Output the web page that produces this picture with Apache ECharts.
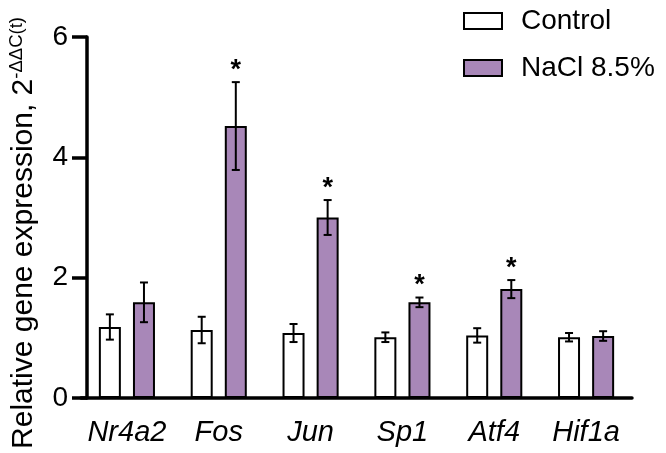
<!DOCTYPE html>
<html>
<head>
<meta charset="utf-8">
<script src="https://cdn.jsdelivr.net/npm/echarts@6/dist/echarts.min.js"></script>
<style>
  html, body { margin: 0; padding: 0; background: #fff; }
  #chart { width: 666px; height: 453px; }
</style>
</head>
<body>
<div id="chart"></div>
<script>
// genes on the x axis
const categories = ['Nr4a2', 'Fos', 'Jun', 'Sp1', 'Atf4', 'Hif1a'];
// mean and error (SEM) for each group
const controlMean = [1.18, 1.13, 1.08, 1.01, 1.04, 1.01];
const controlErr = [0.21, 0.22, 0.15, 0.08, 0.12, 0.07];
const naclMean = [1.59, 4.52, 3.00, 1.59, 1.81, 1.03];
const naclErr = [0.33, 0.73, 0.29, 0.08, 0.15, 0.08];
// significance marks above NaCl bars
const naclStar = [0, 1, 1, 1, 1, 0];
const yTicks = [0, 2, 4, 6];

const FONT = 'Arial, "Liberation Sans", sans-serif';
const PURPLE = '#a887b8';
const BAR_W = 22;
const BAR_GAP = 0.55;
const SHIFT = (BAR_W + BAR_W * BAR_GAP) / 2;

const chart = echarts.init(document.getElementById('chart'));

// error bars (+ asterisks) drawn on top of the bars
function errorRenderer(side) {
    return function (params, api) {
        const idx = api.value(0);
        const mean = api.value(1);
        const err = api.value(2);
        const star = api.value(3);
        const top = api.coord([idx, mean + err]);
        const bot = api.coord([idx, mean - err]);
        const x = top[0] + side * SHIFT;
        const cap = 4;
        const style = {stroke: '#000', lineWidth: 2};
        const children = [
            {type: 'line', shape: {x1: x, y1: top[1], x2: x, y2: bot[1]}, style},
            {type: 'line', shape: {x1: x - cap, y1: top[1], x2: x + cap, y2: top[1]}, style},
            {type: 'line', shape: {x1: x - cap, y1: bot[1], x2: x + cap, y2: bot[1]}, style}
        ];
        if (star) {
            children.push({
                type: 'text',
                style: {
                    x: x, y: top[1] - 12, text: '*',
                    font: 'bold 27px ' + FONT,
                    fill: '#000', align: 'center', verticalAlign: 'middle'
                }
            });
        }
        return {type: 'group', children};
    };
}

const option = {
    animation: false,
    backgroundColor: '#fff',
    textStyle: {fontFamily: FONT, color: '#000'},
    grid: {left: 81, right: 34, top: 37, bottom: 55, containLabel: false, outerBoundsMode: 'none'},
    legend: {
        data: ['Control', 'NaCl 8.5%'],
        orient: 'vertical',
        left: 458,
        top: 2,
        itemWidth: 38,
        itemHeight: 16,
        itemGap: 19,
        icon: 'rect',
        itemStyle: {borderColor: '#000', borderWidth: 2},
        textStyle: {fontSize: 28, color: '#000', fontFamily: FONT, padding: [0, 0, 0, 14]}
    },
    xAxis: {
        type: 'category',
        data: categories,
        axisLine: {lineStyle: {color: '#000', width: 3.5}},
        axisTick: {alignWithLabel: true, interval: 0, length: 14, lineStyle: {color: '#000', width: 3.5}},
        axisLabel: {
            interval: 0, hideOverlap: false,
            fontSize: 29, fontStyle: 'italic', color: '#000', fontFamily: FONT, margin: 20
        }
    },
    yAxis: {
        type: 'value',
        min: yTicks[0],
        max: yTicks[yTicks.length - 1],
        interval: 2,
        offset: -6,
        splitLine: {show: false},
        axisLine: {show: true, lineStyle: {color: '#000', width: 3.5}},
        axisTick: {show: true, length: 15, lineStyle: {color: '#000', width: 3.5}},
        axisLabel: {fontSize: 28, color: '#000', fontFamily: FONT, margin: 19},
        name: '{a|Relative gene expression, 2}{b|-ΔΔC(t)}',
        nameLocation: 'middle',
        nameRotate: 90,
        nameGap: 46,
        nameTextStyle: {
            padding: [0, 31, 0, 0],
            rich: {
                a: {fontSize: 30, fontFamily: FONT, color: '#000', lineHeight: 34},
                b: {fontSize: 18.5, fontFamily: FONT, color: '#000', verticalAlign: 'top', lineHeight: 34}
            }
        }
    },
    series: [
        {
            name: 'Control',
            type: 'bar',
            barWidth: BAR_W,
            barGap: (BAR_GAP * 100) + '%',
            itemStyle: {color: '#fff', borderColor: '#000', borderWidth: 2},
            data: controlMean
        },
        {
            name: 'NaCl 8.5%',
            type: 'bar',
            barWidth: BAR_W,
            itemStyle: {color: PURPLE, borderColor: '#000', borderWidth: 2},
            data: naclMean
        },
        {
            type: 'custom',
            renderItem: errorRenderer(-1),
            z: 5,
            data: controlMean.map((m, i) => [i, m, controlErr[i], 0])
        },
        {
            type: 'custom',
            renderItem: errorRenderer(1),
            z: 5,
            data: naclMean.map((m, i) => [i, m, naclErr[i], naclStar[i]])
        }
    ]
};

chart.setOption(option);
</script>
</body>
</html>
